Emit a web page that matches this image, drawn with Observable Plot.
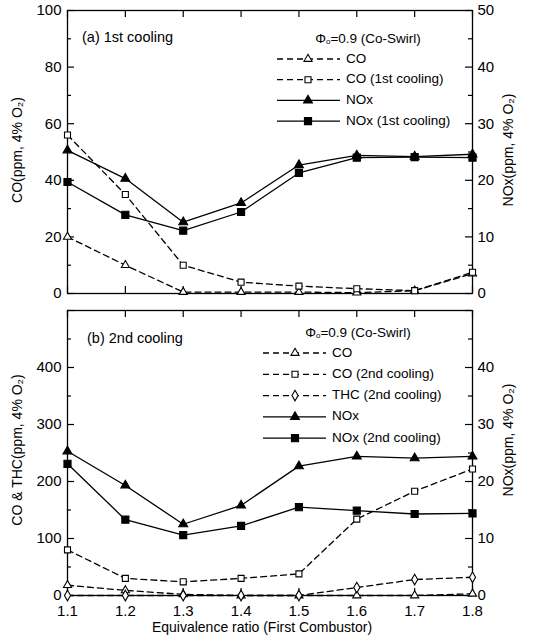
<!DOCTYPE html>
<html><head><meta charset="utf-8">
<script src="https://cdn.jsdelivr.net/npm/d3@7"></script>
<script src="https://cdn.jsdelivr.net/npm/@observablehq/plot@0.6"></script>
<style>
body{margin:0;background:#fff;}
#chart{width:545px;height:638px;}
#chart svg{display:block;}
</style></head><body><div id="chart"></div>
<script>
// ---- data ----
const phi = [1.1, 1.2, 1.3, 1.4, 1.5, 1.6, 1.7, 1.8];
// panel (a) 1st cooling
const coA      = [20, 10, 0.5, 0.5, 0.5, 0.3, 1, 7];
const coA1     = [56, 35, 10, 4, 2.6, 1.7, 1, 7.5];
const noxA     = [25.3, 20.3, 12.6, 16, 22.7, 24.4, 24.2, 24.6];
const noxA1    = [19.7, 13.9, 11.1, 14.4, 21.3, 24, 24.1, 24];
// panel (b) 2nd cooling
const coB      = [18, 9, 2, 0, 0, 0, 0, 3];
const coB2     = [80, 30, 24, 30, 38, 134, 183, 222];
const thcB2    = [0, 0, 0, 0, 0, 14, 28, 32];
const noxB     = [25.3, 19.3, 12.5, 15.8, 22.7, 24.4, 24.1, 24.4];
const noxB2    = [23.1, 13.3, 10.6, 12.2, 15.5, 14.9, 14.3, 14.4];
// ticks
const xTicks = [1.1, 1.2, 1.3, 1.4, 1.5, 1.6, 1.7, 1.8];
const aLeftTicks = [0, 20, 40, 60, 80, 100];
const aMinor = [10, 30, 50, 70, 90];
const aRightTicks = [0, 10, 20, 30, 40, 50];
const bMajor = [0, 100, 200, 300, 400, 500];
const bLeftTicks = [0, 100, 200, 300, 400];
const bMinor = [50, 150, 250, 350, 450];
const bRightTicks = [0, 10, 20, 30, 40];

const FONT = "'Liberation Sans', Arial, Helvetica, sans-serif";
const W = 545, ML = 67, MR = 73;
const PW = W - ML - MR;
const rows = (ys, k = 1) => phi.map((x, i) => ({x, y: ys[i] * k}));

function panel(o) {
  const PH = o.height - o.mt - o.mb;
  const tk = {stroke: "#000", strokeWidth: 1.2};
  const marks = [
    Plot.frame({stroke: "#000", strokeWidth: 1.3}),
    // inward ticks (left / right / bottom / top)
    Plot.tickY(o.major, {y: d => d, insetRight: PW - 7, ...tk}),
    Plot.tickY(o.minor, {y: d => d, insetRight: PW - 4, ...tk}),
    Plot.tickY(o.major, {y: d => d, insetLeft: PW - 7, ...tk}),
    Plot.tickY(o.minor, {y: d => d, insetLeft: PW - 4, ...tk}),
    Plot.tickX(xTicks, {x: d => d, insetTop: PH - 7, ...tk}),
    Plot.tickX(xTicks, {x: d => d, insetBottom: PH - 7, ...tk}),
    // labels
    Plot.axisY(o.leftTicks, {anchor: "left", tickSize: 0, tickPadding: 6, label: null, fontSize: 15}),
    Plot.axisY(o.rightTicks.map(d => d * o.k), {anchor: "right", tickSize: 0, tickPadding: 5, label: null, fontSize: 15, tickFormat: d => d / o.k})
  ];
  if (o.xLabels) marks.push(Plot.axisX(xTicks, {anchor: "bottom", tickSize: 0, tickPadding: 10, label: null, fontSize: 15, tickFormat: d => d.toFixed(1)}));
  for (const s of o.series) {
    const data = rows(s.values, s.nox ? o.k : 1);
    marks.push(Plot.line(data, {x: "x", y: "y", stroke: "#000", strokeWidth: 1.3, strokeDasharray: s.dash ? "6,4" : null}));
  }
  for (const s of o.series) {
    const data = rows(s.values, s.nox ? o.k : 1);
    marks.push(Plot.dot(data, {x: "x", y: "y", symbol: s.symbol, r: s.r, stroke: "#000", strokeWidth: 1.1, fill: s.filled ? "#000" : "#fff"}));
  }
  return Plot.plot({
    width: W, height: o.height,
    marginLeft: ML, marginRight: MR, marginTop: o.mt, marginBottom: o.mb,
    x: {domain: [1.1, 1.8], ...(o.xLabels ? {} : {axis: null})},
    y: {domain: [0, o.yMax]},
    style: {fontFamily: FONT, fontSize: "15px", color: "#000", background: "#fff", overflow: "visible"},
    marks
  });
}

const seriesA = [
  {name: "CO", values: coA, dash: true, symbol: "triangle", filled: false, r: 3},
  {name: "CO (1st cooling)", values: coA1, dash: true, symbol: "square", filled: false, r: 3.4},
  {name: "NOx", values: noxA, nox: true, symbol: "triangle", filled: true, r: 3.3},
  {name: "NOx (1st cooling)", values: noxA1, nox: true, symbol: "square", filled: true, r: 4}
];
const seriesB = [
  {name: "CO", values: coB, dash: true, symbol: "triangle", filled: false, r: 3},
  {name: "CO (2nd cooling)", values: coB2, dash: true, symbol: "square", filled: false, r: 3.4},
  {name: "THC (2nd cooling)", values: thcB2, dash: true, symbol: "diamond", filled: false, r: 3.2},
  {name: "NOx", values: noxB, nox: true, symbol: "triangle", filled: true, r: 3.3},
  {name: "NOx (2nd cooling)", values: noxB2, nox: true, symbol: "square", filled: true, r: 4}
];

const pA = panel({height: 302, mt: 10, mb: 9, yMax: 100, k: 2, major: aLeftTicks, minor: aMinor,
  leftTicks: aLeftTicks, rightTicks: aRightTicks, xLabels: false, series: seriesA});
const pB = panel({height: 336, mt: 8, mb: 43, yMax: 500, k: 10, major: bMajor, minor: bMinor,
  leftTicks: bLeftTicks, rightTicks: bRightTicks, xLabels: true, series: seriesB});

const chart = document.getElementById("chart");
chart.append(pA, pB);

const symMap = {triangle: d3.symbolTriangle, square: d3.symbolSquare, diamond: d3.symbolDiamond};

function decorate(svgNode, o) {
  const svg = d3.select(svgNode);
  const g = svg.append("g").attr("font-family", FONT).attr("fill", "#000").attr("text-anchor", "start");
  // panel label
  g.append("text").attr("x", o.tagX).attr("y", o.tagY).attr("font-size", 14.5).attr("dominant-baseline", "middle").text(o.tag);
  // axis titles
  g.append("text").attr("transform", `translate(${o.lx},${o.ly}) rotate(-90)`).attr("text-anchor", "middle")
    .attr("dominant-baseline", "middle").attr("font-size", 14).text(o.leftTitle);
  g.append("text").attr("transform", `translate(${o.rx},${o.ry}) rotate(-90)`).attr("text-anchor", "middle")
    .attr("dominant-baseline", "middle").attr("font-size", 14).text("NOx(ppm, 4% O₂)");
  // legend title
  const t = g.append("text").attr("x", o.legTitleX).attr("y", o.legTitleY).attr("text-anchor", "middle")
    .attr("dominant-baseline", "middle").attr("font-size", 13.5);
  t.append("tspan").text("Φ");
  t.append("tspan").attr("font-size", 8).attr("dy", 3).text("o");
  t.append("tspan").attr("dy", -3).text("=0.9 (Co-Swirl)");
  o.series.forEach((s, i) => {
    const y = o.legY0 + i * o.legDy;
    g.append("line").attr("x1", o.legX0).attr("x2", o.legX1).attr("y1", y).attr("y2", y)
      .attr("stroke", "#000").attr("stroke-width", 1.3).attr("stroke-dasharray", s.dash ? "6,4" : null);
    const sym = d3.symbol(symMap[s.symbol], s.r * s.r * Math.PI)();
    g.append("path").attr("d", sym).attr("transform", `translate(${o.legMark},${y})`)
      .attr("fill", s.filled ? "#000" : "#fff").attr("stroke", "#000").attr("stroke-width", 1.1);
    g.append("text").attr("x", o.legX1 + 6).attr("y", y).attr("dominant-baseline", "middle")
      .attr("text-anchor", "start").attr("font-size", 13.5).text(s.name);
  });
  if (o.xTitle) {
    g.append("text").attr("x", 262).attr("y", o.xTitleY).attr("text-anchor", "middle")
      .attr("dominant-baseline", "middle").attr("font-size", 14).text(o.xTitle);
  }
}

decorate(pA, {tag: "(a) 1st cooling", tagX: 82, tagY: 38, leftTitle: "CO(ppm, 4% O₂)", lx: 18, ly: 150, rx: 509, ry: 150,
  legTitleX: 368, legTitleY: 39, legX0: 277, legX1: 340, legMark: 308, legY0: 59, legDy: 20.7, series: seriesA});
decorate(pB, {tag: "(b) 2nd cooling", tagX: 87, tagY: 37, leftTitle: "CO & THC(ppm, 4% O₂)", lx: 18, ly: 148, rx: 509, ry: 138,
  legTitleX: 358, legTitleY: 31, legX0: 263, legX1: 326, legMark: 295, legY0: 51, legDy: 21.3, series: seriesB,
  xTitle: "Equivalence ratio (First Combustor)", xTitleY: 326});
</script>
</body></html>
